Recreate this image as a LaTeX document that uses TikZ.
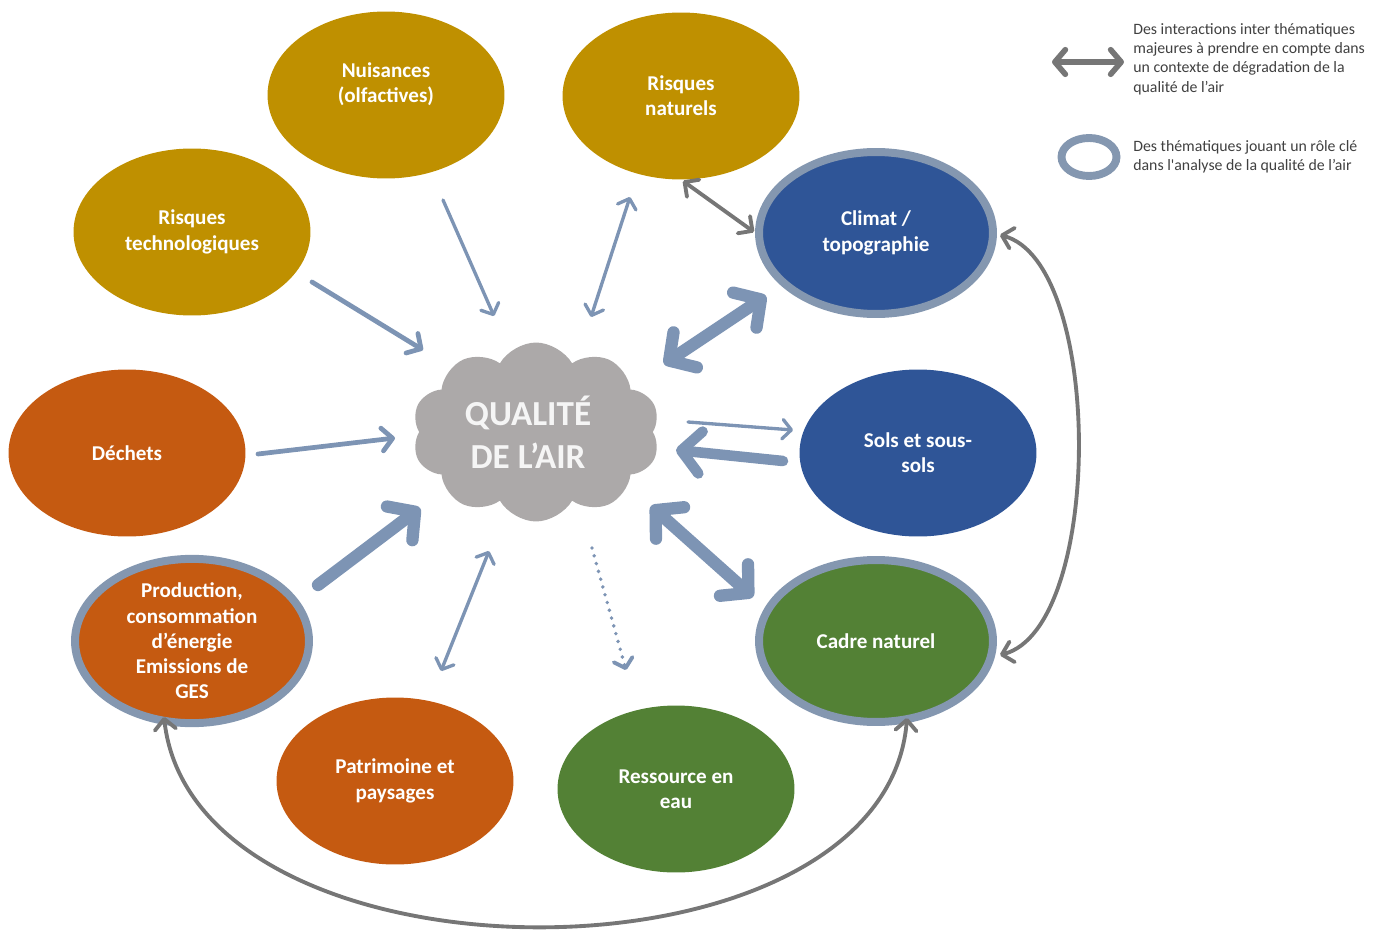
\documentclass[tikz,border=0pt]{standalone}
\usepackage{fontspec}
\setmainfont{Carlito}
\usetikzlibrary{arrows.meta,shapes.geometric,shapes.symbols}
\definecolor{mustard}{RGB}{191,144,0}
\definecolor{rust}{RGB}{197,90,17}
\definecolor{navy}{RGB}{47,85,151}
\definecolor{leaf}{RGB}{83,129,53}
\definecolor{ringc}{RGB}{132,151,176}
\definecolor{arrblue}{RGB}{125,148,180}
\definecolor{arrgray}{RGB}{118,118,118}
\definecolor{cloudc}{RGB}{172,169,169}
\definecolor{legtext}{RGB}{64,64,64}
\tikzset{
  theme/.style={ellipse, minimum width=4.74cm, minimum height=3.34cm, inner sep=0pt,
    text=white, align=center, font=\bfseries\fontsize{12}{14.4}\selectfont},
  keytheme/.style={theme, draw=ringc, line width=0.16cm, minimum width=4.68cm, minimum height=3.24cm},
  bluethin/.style={draw=arrblue, line width=1.9pt, line cap=round,
    >={Straight Barb[length=5pt,width=11pt,round]}},
  bluemid/.style={draw=arrblue, line width=2.7pt, line cap=round,
    >={Straight Barb[length=6pt,width=13pt,round]}},
  bluethick/.style={draw=arrblue, line width=7pt, line cap=round,
    >={Straight Barb[length=11pt,width=24pt,round]}},
  bluedot/.style={draw=arrblue, line width=2.2pt, line cap=round, dash pattern=on 0pt off 4.6pt,
    >={Straight Barb[length=5pt,width=11pt,round]}},
  grayarr/.style={draw=arrgray, line width=2.2pt, line cap=round,
    >={Straight Barb[length=6pt,width=12pt,round]}},
  legendtext/.style={anchor=north west, inner sep=0pt, align=left, text=legtext,
    font=\fontsize{9}{11}\selectfont}
}
\begin{document}
\begin{tikzpicture}[x=0.02cm, y=-0.02cm]
\useasboundingbox (0,0) rectangle (1388,929);

% themes
\node[theme, fill=mustard] (nuis) at (386,95) {Nuisances\\(olfactives)\\\mbox{}};
\node[theme, fill=mustard] (risqnat) at (681,96) {Risques\\naturels};
\node[theme, fill=mustard] (risqtech) at (192,232) {Risques\\technologiques};
\node[keytheme, fill=navy] (climat) at (876,233) {Climat /\\topographie};
\node[theme, fill=rust] (dechets) at (127,453) {Déchets};
\node[theme, fill=navy] (sols) at (918,453) {Sols et sous-\\sols};
\node[keytheme, fill=rust] (prod) at (192,641) {Production,\\consommation\\d’énergie\\Emissions de\\GES};
\node[keytheme, fill=leaf] (cadre) at (876,641) {Cadre naturel};
\node[theme, fill=rust] (patri) at (395,781) {Patrimoine et\\paysages};
\node[theme, fill=leaf] (eau) at (676,789) {Ressource en\\eau};

% central cloud
\node[cloud, cloud puffs=10, cloud puff arc=120, cloud ignores aspect, fill=cloudc,
  minimum width=4.96cm, minimum height=3.58cm, inner sep=0pt, align=center,
  text={rgb,255:red,245;green,245;blue,245}, font=\bfseries\fontsize{20}{24.4}\selectfont]
  (air) at (536,432) {QUALITÉ\hspace*{0.32cm}\\DE L’AIR\hspace*{0.32cm}};

% arrow end points
\coordinate (a1s) at (443,200);  \coordinate (a1e) at (494,316);
\coordinate (a2s) at (630,197);  \coordinate (a2e) at (591,317);
\coordinate (a3s) at (312,282);  \coordinate (a3e) at (423,350);
\coordinate (a4s) at (766,296);  \coordinate (a4e) at (664,364);
\coordinate (a5s) at (258,454);  \coordinate (a5e) at (395,438);
\coordinate (a6s) at (688,422);  \coordinate (a6e) at (793,430);
\coordinate (a7s) at (783,461);  \coordinate (a7e) at (676,450);
\coordinate (a8s) at (651,506);  \coordinate (a8e) at (753,597);
\coordinate (a9s) at (318,585);  \coordinate (a9e) at (420,508);
\coordinate (a10s) at (441,671); \coordinate (a10e) at (489,551);
\coordinate (a11s) at (592,548); \coordinate (a11e) at (626,670);

\draw[bluethin, ->] (a1s) -- (a1e);
\draw[bluethin, <->] (a2s) -- (a2e);
\draw[bluemid, ->] (a3s) -- (a3e);
\draw[bluethick, <->] (a4s) -- (a4e);
\draw[bluemid, ->] (a5s) -- (a5e);
\draw[bluethin, ->] (a6s) -- (a6e);
\draw[bluethick, line width=6pt, ->] (a7s) -- (a7e);
\draw[bluethick, <->] (a8s) -- (a8e);
\draw[bluethick, ->] (a9s) -- (a9e);
\draw[bluethin, <->] (a10s) -- (a10e);
\draw[bluedot, ->] (a11s) -- (a11e);

% gray interactions
\coordinate (g1s) at (683,181); \coordinate (g1e) at (754,232);
\draw[grayarr, <->] (g1s) -- (g1e);
\coordinate (g2s) at (1000,235); \coordinate (g2e) at (1000,655);
\draw[grayarr, <->] (g2s) .. controls (1104,262) and (1104,628) .. (g2e);
\coordinate (g3s) at (164,717); \coordinate (g3e) at (907,718);
\draw[grayarr, <->] (g3s) .. controls (195,996) and (885,996) .. (g3e);

% legend
\coordinate (legL) at (1052,62); \coordinate (legR) at (1124,62);
\draw[grayarr, line width=3.2pt, >={Straight Barb[length=6pt,width=14pt,round]}, <->] (legL) -- (legR);
\node[legendtext] (leg1) at (1133,23) {Des interactions inter thématiques\\majeures à prendre en compte dans\\un contexte de dégradation de la\\qualité de l’air};
\node[ellipse, draw=ringc, line width=4.5pt, minimum width=1.1cm, minimum height=0.76cm, inner sep=0pt] (legring) at (1089,157) {};
\node[legendtext] (leg2) at (1133,140) {Des thématiques jouant un rôle clé\\dans l\textquotesingle analyse de la qualité de l’air};
\end{tikzpicture}
\end{document}
